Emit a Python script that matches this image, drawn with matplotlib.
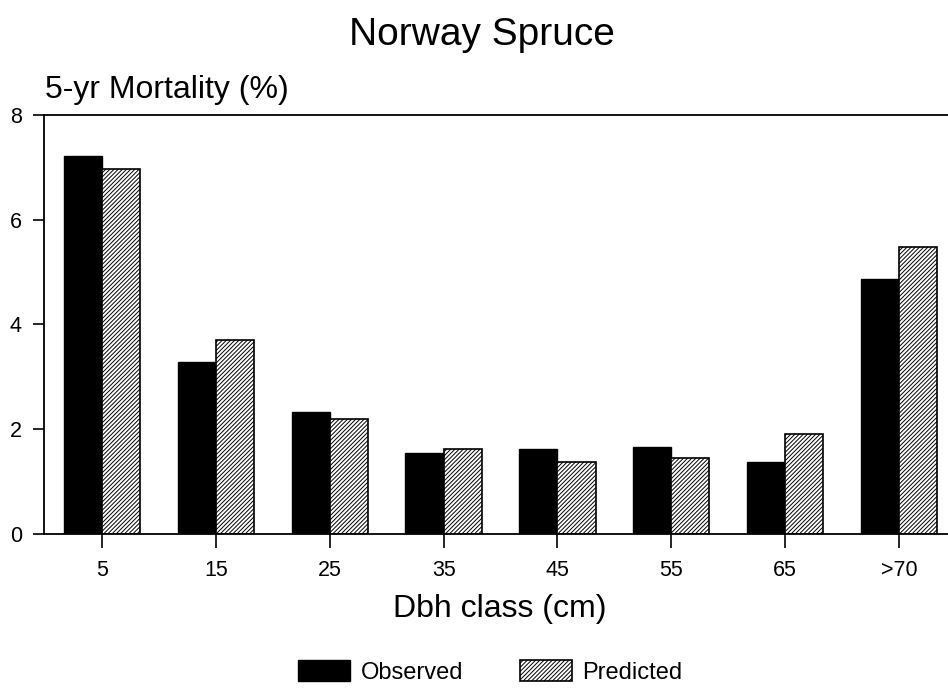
import matplotlib.pyplot as plt
import numpy as np

plt.rcParams['font.family'] = ['Liberation Sans', 'DejaVu Sans']
plt.rcParams['hatch.linewidth'] = 0.7

classes = ['5', '15', '25', '35', '45', '55', '65', '>70']
observed = [7.22, 3.28, 2.33, 1.55, 1.62, 1.67, 1.38, 4.87]
predicted = [6.97, 3.70, 2.19, 1.62, 1.37, 1.46, 1.90, 5.48]

fig = plt.figure(figsize=(9.48, 6.91), dpi=100)
ax = fig.add_axes([0.0464, 0.2272, 0.9536, 0.6064])

x = np.arange(len(classes))
w = 0.335
ax.bar(x - w / 2, observed, w, color='black', edgecolor='black', label='Observed')
ax.bar(x + w / 2, predicted, w, color='white', edgecolor='black', hatch='////////',
       linewidth=1.2, label='Predicted')

ax.set_xlim(-0.51, 7.43)
ax.set_ylim(0, 8)
ax.set_xticks(x)
ax.set_xticklabels(classes)
ax.set_yticks([0, 2, 4, 6, 8])
ax.tick_params(axis='both', labelsize=15.5, width=1.2, direction='out')
ax.tick_params(axis='x', pad=9, length=10)
ax.tick_params(axis='y', pad=8, length=8)
for s in ['left', 'bottom', 'top']:
    ax.spines[s].set_linewidth(1.3)
ax.spines['right'].set_visible(False)

fig.text(0.5274, 0.1071, 'Dbh class (cm)', fontsize=23, ha='center', va='baseline')
fig.text(0.0475, 0.858, '5-yr Mortality (%)', fontsize=23, ha='left', va='baseline')
fig.text(0.508, 0.95, 'Norway Spruce', fontsize=28, ha='center', va='center')

fig.legend(loc='center', bbox_to_anchor=(0.517, 0.0275), ncol=2, frameon=False,
           fontsize=17, handlelength=2.2, handleheight=1.0, columnspacing=2.4,
           handletextpad=0.45, borderaxespad=0)

fig.savefig('out.png', dpi=100)
